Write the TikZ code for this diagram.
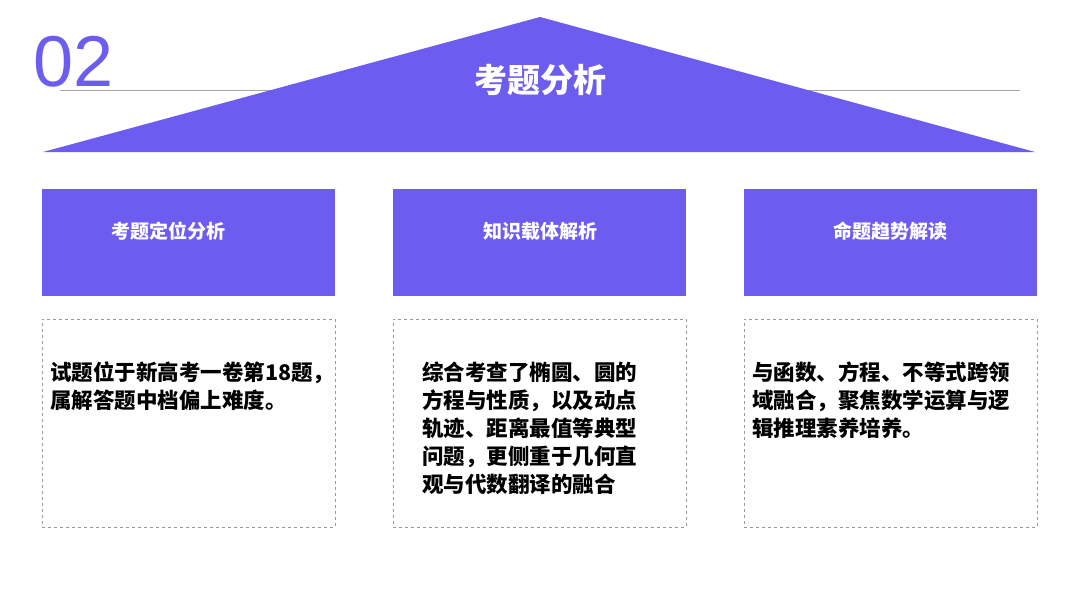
\documentclass[tikz,border=0pt]{standalone}
\usepackage{fontspec}
\setmainfont{Liberation Sans}
\newfontfamily\cjk{Noto Sans CJK SC}
\usetikzlibrary{positioning}
\definecolor{purp}{HTML}{6C5CF0}
\tikzset{
  headbox/.style={fill=purp, minimum width=293pt, minimum height=107pt, inner sep=0pt},
  headtxt/.style={text=white, font=\cjk\bfseries\fontsize{19}{22}\selectfont},
  textbox/.style={draw=gray!80, dashed, minimum width=293pt, minimum height=208pt, inner sep=0pt},
  bodytxt/.style={anchor=north west, align=left, inner sep=0pt, font=\cjk\bfseries\fontsize{21.5}{28}\selectfont}
}
\begin{document}
\begin{tikzpicture}[x=1pt, y=-1pt]
\useasboundingbox (0,0) rectangle (1080,608);
% header
\node[anchor=west, text=purp, inner sep=0pt, font=\fontsize{72}{72}\selectfont] (num) at (33,62) {02};
\draw[gray!70] (60,90) -- (1020,90);
\fill[purp] (540,17) -- (1035,152) -- (43,152) -- cycle;
\node[text=white, font=\cjk\bfseries\fontsize{33}{36}\selectfont] (title) at (540,80) {考题分析};
% columns
\foreach \cx/\nm in {188.5/a, 539.5/b, 890.5/c} {
  \node[headbox] (h\nm) at (\cx,242.5) {};
  \node[textbox] (t\nm) at (\cx,423) {};
}
\node[headtxt] at (168,231) {考题定位分析};
\node[headtxt] at (540,231) {知识载体解析};
\node[headtxt] at (890,231) {命题趋势解读};
\node[bodytxt] at (50,362) {试题位于新高考一卷第18题，\\属解答题中档偏上难度。};
\node[bodytxt] at (422,362) {综合考查了椭圆、圆的\\方程与性质，以及动点\\轨迹、距离最值等典型\\问题，更侧重于几何直\\观与代数翻译的融合};
\node[bodytxt] at (752,362) {与函数、方程、不等式跨领\\域融合，聚焦数学运算与逻\\辑推理素养培养。};
\end{tikzpicture}
\end{document}
